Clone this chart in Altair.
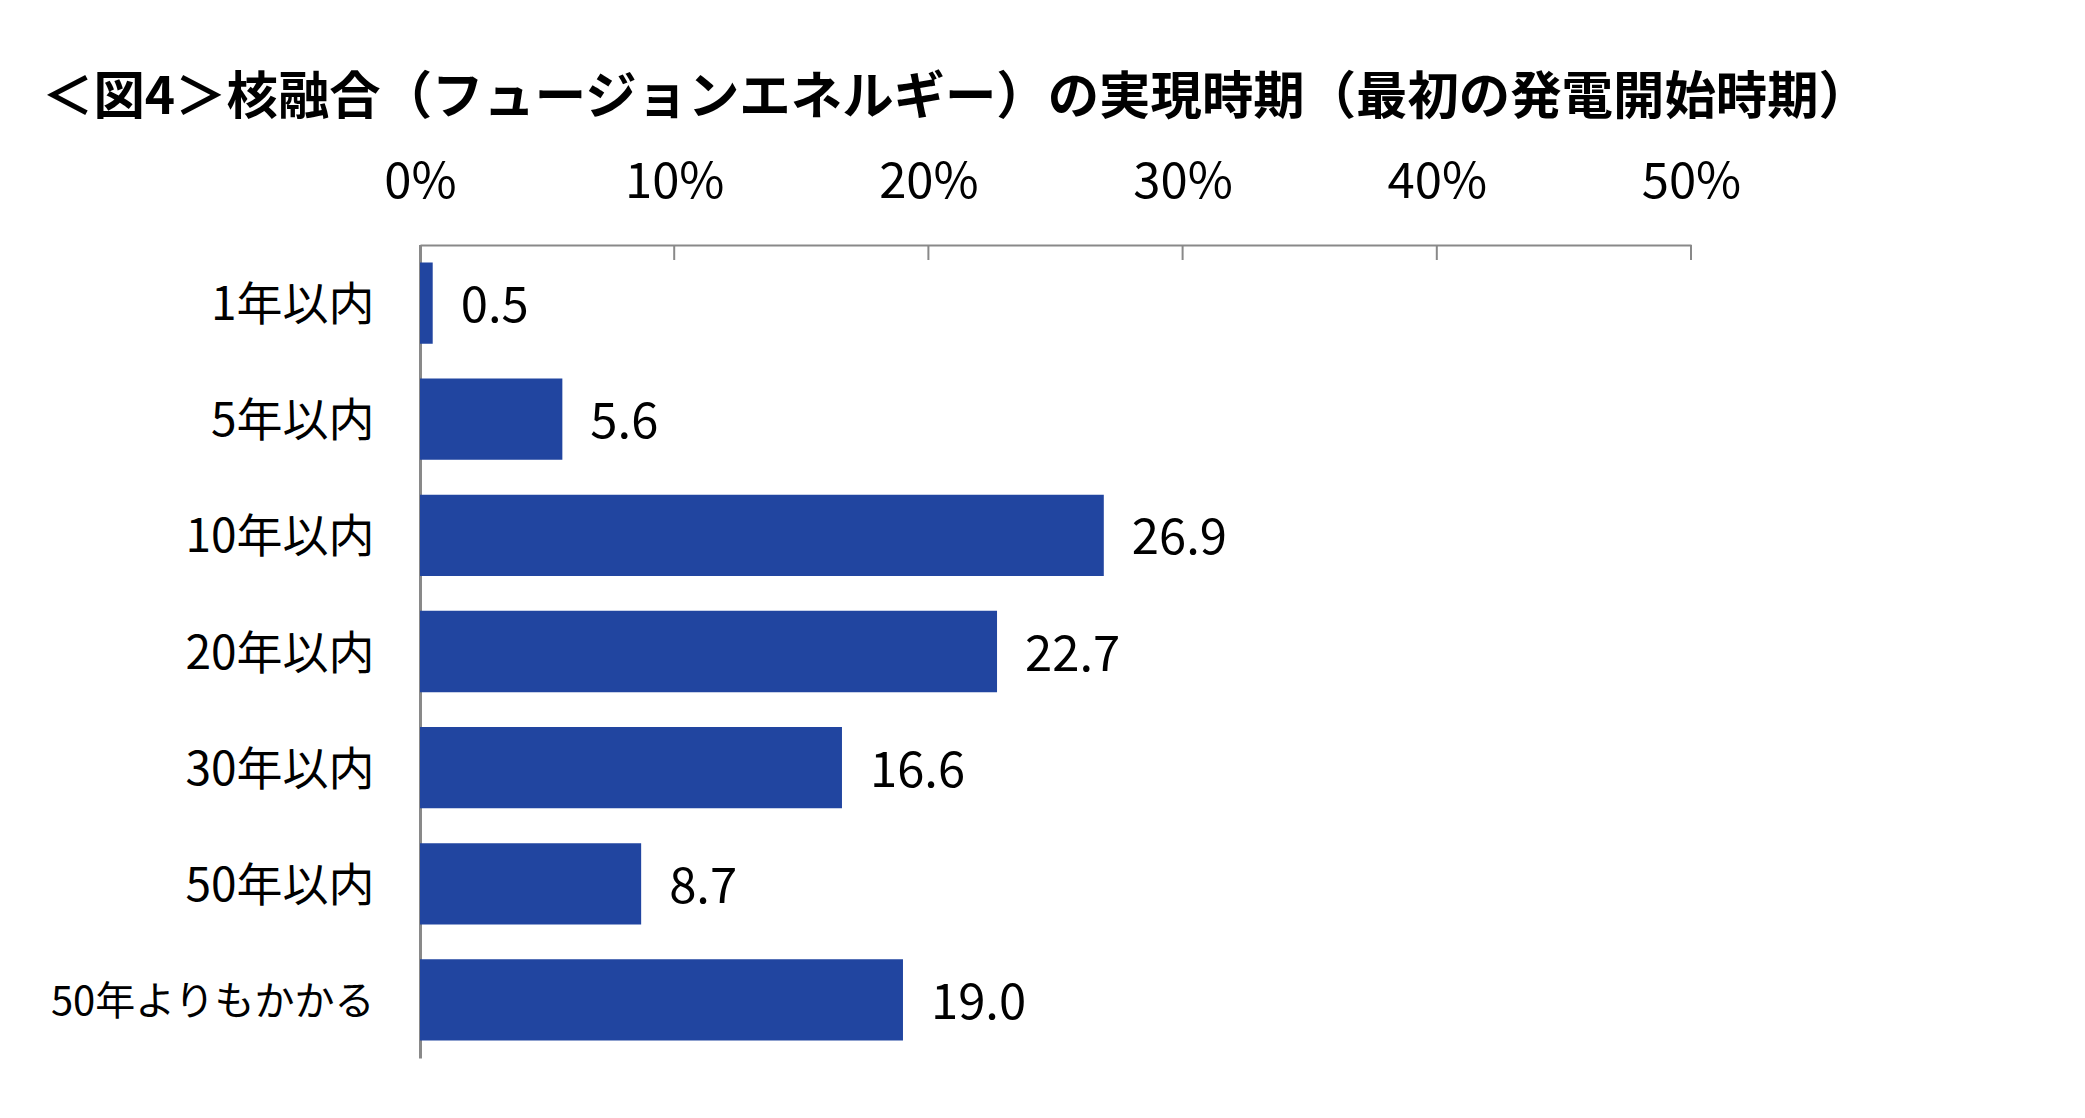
import altair as alt
import pandas as pd

categories = ["1年以内", "5年以内", "10年以内", "20年以内", "30年以内", "50年以内", "50年よりもかかる"]
values = [0.5, 5.6, 26.9, 22.7, 16.6, 8.7, 19.0]
tick_values = [0, 10, 20, 30, 40, 50]
title_text = "＜図4＞核融合（フュージョンエネルギー）の実現時期（最初の発電開始時期）"

df = pd.DataFrame({"category": categories, "value": values})
ticks_df = pd.DataFrame({"tick": tick_values})

FONT = "Noto Sans CJK JP"
GRAY = "#898989"
BLUE = "#2145A0"

x_scale = alt.Scale(domain=[0, 50], nice=False, zero=True)
y_scale = alt.Scale(paddingInner=0.3, paddingOuter=0.15)

base = alt.Chart(df)

bars = base.mark_bar(color=BLUE).encode(
    x=alt.X(
        "value:Q",
        scale=x_scale,
        axis=alt.Axis(
            orient="top",
            values=tick_values,
            labelExpr="datum.value + '%'",
            title=None,
            grid=False,
            ticks=False,
            tickSize=0,
            labelFlush=False,
            labelPadding=38,
            labelFontSize=49,
            labelFont=FONT,
            labelColor="black",
            domainColor=GRAY,
            domainWidth=2,
        ),
    ),
    y=alt.Y(
        "category:N",
        sort=categories,
        scale=y_scale,
        axis=alt.Axis(
            title=None,
            ticks=False,
            tickSize=0,
            labelPadding=46,
            labelOffset=3,
            labelFontSize={
                "condition": {"test": "datum.value == '50年よりもかかる'", "value": 40},
                "value": 46,
            },
            labelFont=FONT,
            labelColor="black",
            labelLimit=600,
            domainColor=GRAY,
            domainWidth=3,
        ),
    ),
)

labels = base.mark_text(
    align="left", baseline="middle", dx=28, dy=4, fontSize=49, font=FONT, color="black"
).encode(
    x=alt.X("value:Q"),
    y=alt.Y("category:N", sort=categories),
    text=alt.Text("value:Q", format=".1f"),
)

tick_rules = alt.Chart(ticks_df).mark_rule(color=GRAY, strokeWidth=2).encode(
    x=alt.X("tick:Q"),
    y=alt.value(0),
    y2=alt.value(15),
)

chart = (
    alt.layer(bars, labels, tick_rules)
    .properties(
        width=1271,
        height=813,
        autosize=alt.AutoSizeParams(type="none"),
        padding={"left": 412, "top": 237, "right": 380, "bottom": 40},
        title=alt.TitleParams(
            text=title_text,
            anchor="start",
            frame="group",
            fontSize=51.4,
            font=FONT,
            fontWeight="bold",
            color="black",
            dx=-378,
            offset=34,
        ),
    )
    .configure_view(stroke=None)
)

chart.save("out.html", embed_options={"renderer": "svg", "actions": False})
